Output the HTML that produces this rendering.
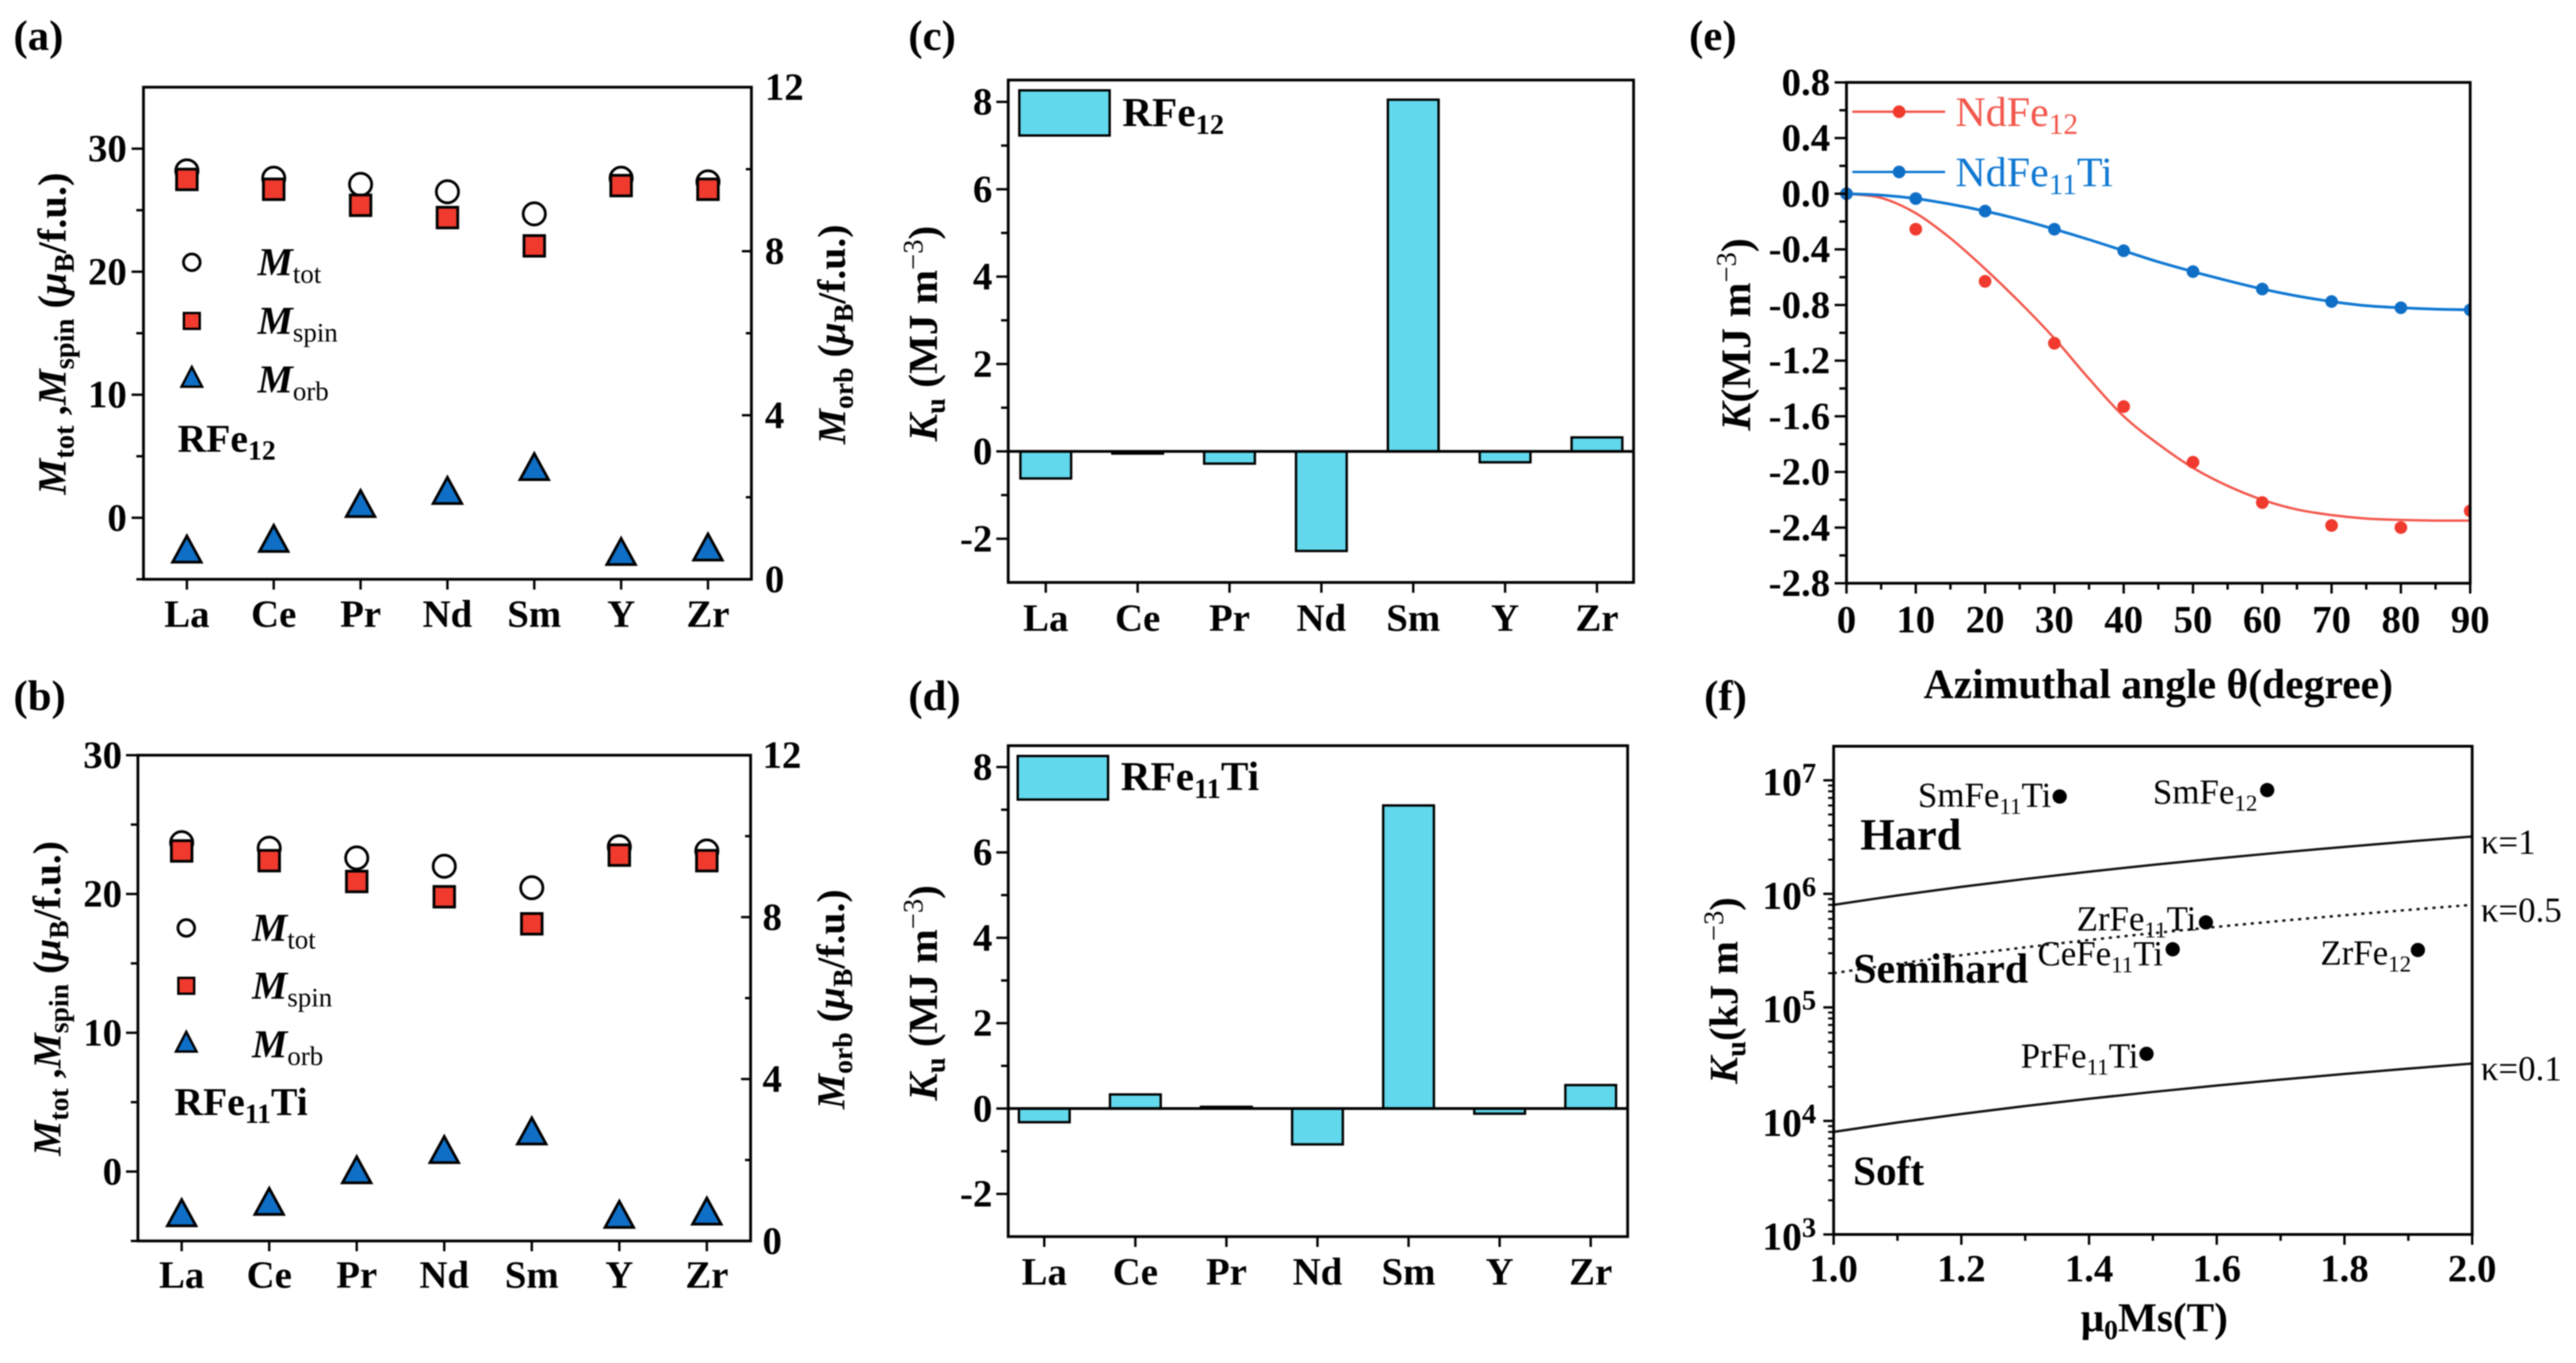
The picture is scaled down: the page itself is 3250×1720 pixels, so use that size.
<!DOCTYPE html>
<html lang="en">
<head>
<meta charset="utf-8">
<title>Magnetic properties of RFe12 and RFe11Ti</title>
<style>
html,body{margin:0;padding:0;background:#fff;width:3250px;height:1720px;overflow:hidden}
svg{display:block;filter:blur(0.7px)}
text{font-family:"Liberation Serif","DejaVu Serif",serif;fill:#000}
.b{font-weight:bold}
</style>
</head>
<body>
<svg id="figure" xmlns="http://www.w3.org/2000/svg" width="3250" height="1720" viewBox="0 0 3250 1720">
<defs><clipPath id="clip-e"><rect x="2300" y="100" width="817" height="640"/></clipPath></defs>
<rect x="0" y="0" width="3250" height="1720" fill="#fff"/>

<text class="b" x="17" y="63" font-size="54">(a)</text>
<text class="b" x="17" y="896" font-size="54">(b)</text>
<text class="b" x="1146" y="63" font-size="54">(c)</text>
<text class="b" x="1146" y="896" font-size="54">(d)</text>
<text class="b" x="2131" y="63" font-size="54">(e)</text>
<text class="b" x="2150" y="896" font-size="54">(f)</text>

<g id="panel-a"></g>
<g id="panel-b"></g>
<g id="panel-c"></g>
<g id="panel-d"></g>
<g id="panel-e"></g>
<g id="panel-f"></g>

<!-- panel a static -->
<text class="b" transform="translate(83,421) rotate(-90)" text-anchor="middle" font-size="51"><tspan font-style="italic">M</tspan><tspan dy="10" font-size="36">tot</tspan><tspan dy="-10"> ,</tspan><tspan font-style="italic">M</tspan><tspan dy="10" font-size="36">spin</tspan><tspan dy="-10"> (</tspan><tspan font-style="italic">μ</tspan><tspan dy="10" font-size="36">B</tspan><tspan dy="-10">/f.u.)</tspan></text>
<text class="b" transform="translate(1066,422) rotate(-90)" text-anchor="middle" font-size="50"><tspan font-style="italic">M</tspan><tspan dy="10" font-size="35">orb</tspan><tspan dy="-10"> (</tspan><tspan font-style="italic">μ</tspan><tspan dy="10" font-size="35">B</tspan><tspan dy="-10">/f.u.)</tspan></text>
<circle cx="242" cy="331" r="10.5" fill="#fff" stroke="#000" stroke-width="3.5"/>
<rect x="232" y="395" width="20" height="20" fill="#f03a2e" stroke="#000" stroke-width="3"/>
<polygon points="242,463 255,488 229,488" fill="#0f6fc6" stroke="#000" stroke-width="3"/>
<text x="325" y="347" font-size="50" class="b"><tspan font-style="italic">M</tspan><tspan dy="10" font-size="34" font-weight="normal">tot</tspan></text>
<text x="325" y="421" font-size="50" class="b"><tspan font-style="italic">M</tspan><tspan dy="10" font-size="34" font-weight="normal">spin</tspan></text>
<text x="325" y="495" font-size="50" class="b"><tspan font-style="italic">M</tspan><tspan dy="10" font-size="34" font-weight="normal">orb</tspan></text>
<text class="b" x="224" y="570" font-size="50">RFe<tspan dy="10" font-size="35">12</tspan></text>

<!-- panel b static -->
<text class="b" transform="translate(76,1260) rotate(-90)" text-anchor="middle" font-size="50"><tspan font-style="italic">M</tspan><tspan dy="10" font-size="35">tot</tspan><tspan dy="-10"> ,</tspan><tspan font-style="italic">M</tspan><tspan dy="10" font-size="35">spin</tspan><tspan dy="-10"> (</tspan><tspan font-style="italic">μ</tspan><tspan dy="10" font-size="35">B</tspan><tspan dy="-10">/f.u.)</tspan></text>
<text class="b" transform="translate(1065,1261) rotate(-90)" text-anchor="middle" font-size="50"><tspan font-style="italic">M</tspan><tspan dy="10" font-size="35">orb</tspan><tspan dy="-10"> (</tspan><tspan font-style="italic">μ</tspan><tspan dy="10" font-size="35">B</tspan><tspan dy="-10">/f.u.)</tspan></text>
<circle cx="235" cy="1171" r="10.5" fill="#fff" stroke="#000" stroke-width="3.5"/>
<rect x="225" y="1234" width="20" height="20" fill="#f03a2e" stroke="#000" stroke-width="3"/>
<polygon points="235,1302 248,1327 222,1327" fill="#0f6fc6" stroke="#000" stroke-width="3"/>
<text x="318" y="1187" font-size="50" class="b"><tspan font-style="italic">M</tspan><tspan dy="10" font-size="34" font-weight="normal">tot</tspan></text>
<text x="318" y="1260" font-size="50" class="b"><tspan font-style="italic">M</tspan><tspan dy="10" font-size="34" font-weight="normal">spin</tspan></text>
<text x="318" y="1334" font-size="50" class="b"><tspan font-style="italic">M</tspan><tspan dy="10" font-size="34" font-weight="normal">orb</tspan></text>
<text class="b" x="220" y="1407" font-size="50">RFe<tspan dy="10" font-size="35">11</tspan><tspan dy="-10">Ti</tspan></text>

<!-- panel c static -->
<text class="b" transform="translate(1182,421) rotate(-90)" text-anchor="middle" font-size="52"><tspan font-style="italic">K</tspan><tspan dy="10" font-size="36">u</tspan><tspan dy="-10"> (MJ m</tspan><tspan dy="-18" font-size="36" font-weight="normal">−3</tspan><tspan dy="18">)</tspan></text>
<rect x="1286" y="114" width="114" height="57" fill="#62d8ec" stroke="#000" stroke-width="3"/>
<text class="b" x="1416" y="159" font-size="52">RFe<tspan dy="10" font-size="36">12</tspan></text>

<!-- panel d static -->
<text class="b" transform="translate(1182,1253) rotate(-90)" text-anchor="middle" font-size="52"><tspan font-style="italic">K</tspan><tspan dy="10" font-size="36">u</tspan><tspan dy="-10"> (MJ m</tspan><tspan dy="-18" font-size="36" font-weight="normal">−3</tspan><tspan dy="18">)</tspan></text>
<rect x="1284" y="954" width="114" height="55" fill="#62d8ec" stroke="#000" stroke-width="3"/>
<text class="b" x="1414" y="997" font-size="52">RFe<tspan dy="10" font-size="36">11</tspan><tspan dy="-10">Ti</tspan></text>

<!-- panel e static -->
<text class="b" transform="translate(2208,422) rotate(-90)" text-anchor="middle" font-size="53"><tspan font-style="italic">K</tspan>(MJ m<tspan dy="-18" font-size="36" font-weight="normal">−3</tspan><tspan dy="18">)</tspan></text>
<text class="b" x="2723" y="881" text-anchor="middle" font-size="52.5">Azimuthal angle θ(degree)</text>
<line x1="2337" y1="141" x2="2454" y2="141" stroke="#f2574c" stroke-width="3"/>
<circle cx="2396" cy="141" r="8" fill="#f03a2e"/>
<text x="2467" y="159" font-size="53" style="fill:#f2574c">NdFe<tspan dy="10" font-size="37" style="fill:#f2574c">12</tspan></text>
<line x1="2337" y1="217" x2="2454" y2="217" stroke="#0f78d2" stroke-width="3"/>
<circle cx="2396" cy="217" r="8" fill="#0f6fc6"/>
<text x="2467" y="235" font-size="53" style="fill:#0f78d2">NdFe<tspan dy="10" font-size="37" style="fill:#0f78d2">11</tspan><tspan dy="-10" style="fill:#0f78d2">Ti</tspan></text>

<!-- panel f static -->
<text class="b" transform="translate(2192,1250) rotate(-90)" text-anchor="middle" font-size="51"><tspan font-style="italic">K</tspan><tspan dy="10" font-size="36">u</tspan><tspan dy="-10">(kJ m</tspan><tspan dy="-18" font-size="36" font-weight="normal">−3</tspan><tspan dy="18">)</tspan></text>
<text class="b" x="2718" y="1680" text-anchor="middle" font-size="52">μ<tspan dy="10" font-size="35">0</tspan><tspan dy="-10">Ms(T)</tspan></text>
<text class="b" x="2347" y="1072" font-size="56">Hard</text>
<text class="b" x="2338" y="1240" font-size="53">Semihard</text>
<text class="b" x="2338" y="1495" font-size="52">Soft</text>
<text x="3130" y="1077" font-size="44">κ=1</text>
<text x="3130" y="1163" font-size="44">κ=0.5</text>
<text x="3130" y="1363" font-size="44">κ=0.1</text>
<text x="2588" y="1018" text-anchor="end" font-size="44">SmFe<tspan dy="9" font-size="29">11</tspan><tspan dy="-9">Ti</tspan></text>
<text x="2848" y="1014" text-anchor="end" font-size="44">SmFe<tspan dy="9" font-size="29">12</tspan></text>
<text x="2771" y="1174" text-anchor="end" font-size="44">ZrFe<tspan dy="9" font-size="29">11</tspan><tspan dy="-9">Ti</tspan></text>
<text x="2729" y="1218" text-anchor="end" font-size="44">CeFe<tspan dy="9" font-size="29">11</tspan><tspan dy="-9">Ti</tspan></text>
<text x="3042" y="1217" text-anchor="end" font-size="44">ZrFe<tspan dy="9" font-size="29">12</tspan></text>
<text x="2698" y="1347" text-anchor="end" font-size="44">PrFe<tspan dy="9" font-size="29">11</tspan><tspan dy="-9">Ti</tspan></text>
</svg>

<script>
// ---- chart data ----
const categories = ['La', 'Ce', 'Pr', 'Nd', 'Sm', 'Y', 'Zr'];

const aTotal = [28.2, 27.6, 27.1, 26.5, 24.7, 27.6, 27.3];
const aSpin = [27.5, 26.7, 25.4, 24.4, 22.1, 27.0, 26.7];
const aOrbital = [0.67, 0.93, 1.78, 2.10, 2.68, 0.61, 0.72];
const aLeftMajor = [0, 10, 20, 30];
const aLeftMinor = [-5, 5, 15, 25];

const bTotal = [23.7, 23.3, 22.6, 22.0, 20.45, 23.4, 23.1];
const bSpin = [23.1, 22.4, 20.9, 19.8, 17.85, 22.8, 22.4];
const bOrbital = [0.63, 0.91, 1.69, 2.19, 2.65, 0.59, 0.67];
const bLeftMajor = [0, 10, 20, 30];
const bLeftMinor = [-5, 5, 15, 25];

const rightMajor = [0, 4, 8, 12];
const rightMinor = [2, 6, 10];

const cKu = [-0.62, -0.05, -0.28, -2.28, 8.05, -0.25, 0.32];
const dKu = [-0.32, 0.33, 0.04, -0.84, 7.10, -0.12, 0.55];
const kuMajor = [-2, 0, 2, 4, 6, 8];
const kuMinor = [-1, 1, 3, 5, 7];

const eAngles = [0, 10, 20, 30, 40, 50, 60, 70, 80, 90];
const eAngleMinor = [5, 15, 25, 35, 45, 55, 65, 75, 85];
const eRedPoints = [0, -0.255, -0.63, -1.075, -1.53, -1.93, -2.22, -2.385, -2.40, -2.28];
const eBluePoints = [0, -0.035, -0.125, -0.255, -0.41, -0.56, -0.685, -0.775, -0.82, -0.835];
const eFitAngles = [0, 5, 10, 15, 20, 25, 30, 35, 40, 45, 50, 55, 60, 65, 70, 75, 80, 85, 90];
const eRedFit = [0, -0.03, -0.14, -0.32, -0.54, -0.78, -1.04, -1.33, -1.60, -1.80, -1.97, -2.10, -2.20, -2.27, -2.31, -2.335, -2.345, -2.35, -2.35];
const eBlueFit = [0, -0.01, -0.035, -0.075, -0.125, -0.185, -0.255, -0.33, -0.41, -0.49, -0.56, -0.625, -0.685, -0.735, -0.775, -0.805, -0.82, -0.83, -0.835];
const eYMajor = ['-2.8', '-2.4', '-2.0', '-1.6', '-1.2', '-0.8', '-0.4', '0.0', '0.4', '0.8'];
const eYMinor = [-2.6, -2.2, -1.8, -1.4, -1.0, -0.6, -0.2, 0.2, 0.6];

const fMs = [1.0, 1.1, 1.2, 1.3, 1.4, 1.5, 1.6, 1.7, 1.8, 1.9, 2.0];
const fKappa1 = [800000, 968000, 1152000, 1352000, 1568000, 1800000, 2048000, 2312000, 2592000, 2888000, 3200000];
const fKappa05 = [200000, 242000, 288000, 338000, 392000, 450000, 512000, 578000, 648000, 722000, 800000];
const fKappa01 = [8000, 9680, 11520, 13520, 15680, 18000, 20480, 23120, 25920, 28880, 32000];
const fPointNames = ['SmFe11Ti', 'SmFe12', 'ZrFe11Ti', 'CeFe11Ti', 'ZrFe12', 'PrFe11Ti'];
const fPointMs = [1.354, 1.679, 1.583, 1.531, 1.915, 1.49];
const fPointKu = [7200000, 8200000, 560000, 325000, 320000, 39000];
const fXMajor = ['1.0', '1.2', '1.4', '1.6', '1.8', '2.0'];
const fXMinor = [1.1, 1.3, 1.5, 1.7, 1.9];
const fExponents = [3, 4, 5, 6, 7];
const fMinorMultipliers = [2, 3, 4, 5, 6, 7, 8, 9];

// ---- helpers ----
const SVGNS = 'http://www.w3.org/2000/svg';
function linear(d0, d1, r0, r1) {
  return function (v) { return r0 + (v - d0) * (r1 - r0) / (d1 - d0); };
}
function shape(parent, tag, attrs) {
  const node = document.createElementNS(SVGNS, tag);
  Object.keys(attrs).forEach(function (k) { node.setAttribute(k, attrs[k]); });
  parent.appendChild(node);
  return node;
}
function tick(parent, x1, y1, x2, y2, w, name) {
  const t = shape(parent, 'line', { x1: x1, y1: y1, x2: x2, y2: y2, stroke: '#000', 'stroke-width': w });
  
  
}
function label(parent, x, y, str, anchor, size, name) {
  const t = shape(parent, 'text', { x: x, y: y, 'text-anchor': anchor, 'font-size': size, 'font-weight': 'bold' });
  t.textContent = str;
  
  
  return t;
}
function frame(parent, b) {
  const r = shape(parent, 'rect', { x: b.l, y: b.t, width: b.r - b.l, height: b.b - b.t, fill: 'none', stroke: '#000', 'stroke-width': 3.5 });
  
  
}
function categoryAxis(parent, b, xOf, baseline) {
  categories.forEach(function (c, i) {
    tick(parent, xOf(i), b.b, xOf(i), b.b + 13, 3, 'x-tick-' + c);
    label(parent, xOf(i), baseline, c, 'middle', 49, 'x-tick-label-' + c);
  });
}
function leftAxis(parent, b, yOf, major, minor, labelX) {
  major.forEach(function (v) {
    const num = Number(v);
    tick(parent, b.l - 15, yOf(num), b.l, yOf(num), 3, 'y-tick-' + v);
    label(parent, labelX, yOf(num) + 16, String(v), 'end', 49, 'y-tick-label-' + v);
  });
  minor.forEach(function (v) {
    tick(parent, b.l - 9, yOf(v), b.l, yOf(v), 3, 'y-minor-tick-' + v);
  });
}
function rightAxis(parent, b, yOf, labelX) {
  rightMajor.forEach(function (v) {
    tick(parent, b.r - 12, yOf(v), b.r, yOf(v), 3, 'right-tick-' + v);
    label(parent, labelX, yOf(v) + 16, String(v), 'start', 49, 'right-tick-label-' + v);
  });
  rightMinor.forEach(function (v) {
    tick(parent, b.r - 7, yOf(v), b.r, yOf(v), 3, 'right-minor-tick-' + v);
  });
}
function smoothPath(xs, ys) {
  let d = 'M' + xs[0] + ' ' + ys[0];
  for (let i = 0; i < xs.length - 1; i++) {
    const p0 = Math.max(i - 1, 0), p3 = Math.min(i + 2, xs.length - 1);
    const c1x = xs[i] + (xs[i + 1] - xs[p0]) / 6, c1y = ys[i] + (ys[i + 1] - ys[p0]) / 6;
    const c2x = xs[i + 1] - (xs[p3] - xs[i]) / 6, c2y = ys[i + 1] - (ys[p3] - ys[i]) / 6;
    d += 'C' + c1x + ' ' + c1y + ' ' + c2x + ' ' + c2y + ' ' + xs[i + 1] + ' ' + ys[i + 1];
  }
  return d;
}

// ---- panels a / b ----
function momentPanel(id, b, leftDomain, total, spin, orbital, leftMajor, leftMinor, leftLabelX, rightLabelX, xBaseline) {
  const g = document.getElementById(id);
  const step = (b.r - b.l) / 7;
  const xOf = function (i) { return b.l + (i + 0.5) * step; };
  const yLeft = linear(leftDomain[0], leftDomain[1], b.b, b.t);
  const yRight = linear(0, 12, b.b, b.t);
  total.forEach(function (v, i) {
    const m = shape(g, 'circle', { cx: xOf(i), cy: yLeft(v), r: 14, fill: '#fff', stroke: '#000', 'stroke-width': 3.5 });
    
    
  });
  spin.forEach(function (v, i) {
    const m = shape(g, 'rect', { x: xOf(i) - 13, y: yLeft(v) - 13, width: 26, height: 26, fill: '#f03a2e', stroke: '#000', 'stroke-width': 3.5 });
    
    
  });
  orbital.forEach(function (v, i) {
    const cx = xOf(i), cy = yRight(v);
    const pts = cx + ',' + (cy - 20) + ' ' + (cx + 18) + ',' + (cy + 13) + ' ' + (cx - 18) + ',' + (cy + 13);
    const m = shape(g, 'polygon', { points: pts, fill: '#0f6fc6', stroke: '#000', 'stroke-width': 3.5, 'stroke-linejoin': 'miter' });
    
    
  });
  frame(g, b);
  categoryAxis(g, b, xOf, xBaseline);
  leftAxis(g, b, yLeft, leftMajor, leftMinor, leftLabelX);
  rightAxis(g, b, yRight, rightLabelX);
}
momentPanel('panel-a', { l: 181, r: 948, t: 110, b: 731 }, [-5, 35], aTotal, aSpin, aOrbital, aLeftMajor, aLeftMinor, 160, 965, 791);
momentPanel('panel-b', { l: 174, r: 947, t: 953, b: 1566 }, [-5, 30], bTotal, bSpin, bOrbital, bLeftMajor, bLeftMinor, 154, 962, 1625);

// ---- panels c / d ----
function barPanel(id, b, values, firstX, step, barW, xBaseline) {
  const g = document.getElementById(id);
  const xOf = function (i) { return firstX + i * step; };
  const yOf = linear(-3, 8.5, b.b, b.t);
  values.forEach(function (v, i) {
    const top = Math.min(yOf(v), yOf(0)), h = Math.abs(yOf(v) - yOf(0));
    const r = shape(g, 'rect', { x: xOf(i) - barW / 2, y: top, width: barW, height: h, fill: '#62d8ec', stroke: '#000', 'stroke-width': 3 });
    
    
  });
  tick(g, b.l, yOf(0), b.r, yOf(0), 3.5, 'zero-line');
  frame(g, b);
  categoryAxis(g, b, xOf, xBaseline);
  leftAxis(g, b, yOf, kuMajor, kuMinor, 1252);
}
barPanel('panel-c', { l: 1272, r: 2061, t: 101, b: 735 }, cKu, 1319.4, 115.9, 64, 796);
barPanel('panel-d', { l: 1272, r: 2053.5, t: 941, b: 1560.5 }, dKu, 1317.5, 114.9, 64, 1621);

// ---- panel e ----
(function () {
  const g = document.getElementById('panel-e');
  const b = { l: 2329.6, r: 3116.5, t: 104, b: 736 };
  const xOf = linear(0, 90, b.l, b.r);
  const yOf = linear(-2.8, 0.8, b.b, b.t);
  const series = [
    { name: 'ndfe12', line: '#f2574c', dot: '#f03a2e', fit: eRedFit, pts: eRedPoints, w: 3 },
    { name: 'ndfe11ti', line: '#0f78d2', dot: '#0f6fc6', fit: eBlueFit, pts: eBluePoints, w: 3.5 }
  ];
  series.forEach(function (s) {
    const path = shape(g, 'path', { d: smoothPath(eFitAngles.map(xOf), s.fit.map(yOf)), fill: 'none', stroke: s.line, 'stroke-width': s.w, 'clip-path': 'url(#clip-e)' });
    
    
    s.pts.forEach(function (v, i) {
      const dot = shape(g, 'circle', { cx: xOf(eAngles[i]), cy: yOf(v), r: 8, fill: s.dot, 'clip-path': 'url(#clip-e)' });
      
      
    });
  });
  frame(g, b);
  eAngles.forEach(function (a) {
    tick(g, xOf(a), b.b, xOf(a), b.b + 13, 3, 'x-tick-' + a);
    label(g, xOf(a), 798, String(a), 'middle', 49, 'x-tick-label-' + a);
  });
  eAngleMinor.forEach(function (a) {
    tick(g, xOf(a), b.b, xOf(a), b.b + 8, 3, 'x-minor-tick-' + a);
  });
  leftAxis(g, b, yOf, eYMajor, eYMinor, 2309);
})();

// ---- panel f ----
(function () {
  const g = document.getElementById('panel-f');
  const b = { l: 2313.4, r: 3119, t: 941.7, b: 1557.8 };
  const xOf = linear(1, 2, b.l, b.r);
  const yLog = linear(3, 7.3, b.b, b.t);
  const yOf = function (v) { return yLog(Math.log10(v)); };
  const curves = [
    { name: 'kappa-1', vals: fKappa1, dash: 'none' },
    { name: 'kappa-0-5', vals: fKappa05, dash: '4 6' },
    { name: 'kappa-0-1', vals: fKappa01, dash: 'none' }
  ];
  curves.forEach(function (c) {
    const path = shape(g, 'path', { d: smoothPath(fMs.map(xOf), c.vals.map(yOf)), fill: 'none', stroke: '#111', 'stroke-width': 3, 'stroke-dasharray': c.dash });
    
    
  });
  fPointNames.forEach(function (n, i) {
    const dot = shape(g, 'circle', { cx: xOf(fPointMs[i]), cy: yOf(fPointKu[i]), r: 9, fill: '#000' });
    
    
  });
  frame(g, b);
  fXMajor.forEach(function (v) {
    tick(g, xOf(Number(v)), b.b, xOf(Number(v)), b.b + 13, 3, 'x-tick-' + v);
    label(g, xOf(Number(v)), 1617, v, 'middle', 49, 'x-tick-label-' + v);
  });
  fXMinor.forEach(function (v) {
    tick(g, xOf(v), b.b, xOf(v), b.b + 8, 3, 'x-minor-tick-' + v);
  });
  fExponents.forEach(function (e) {
    const y = yLog(e);
    tick(g, b.l - 13, y, b.l, y, 3, 'y-tick-1e' + e);
    const t = label(g, b.l - 90, y + 19, '10', 'start', 50, 'y-tick-label-1e' + e);
    const sup = shape(t, 'tspan', { dy: -16, 'font-size': 36 });
    sup.textContent = String(e);
    fMinorMultipliers.forEach(function (m) {
      const v = m * Math.pow(10, e);
      if (Math.log10(v) <= 7.3) {
        tick(g, b.l - 7, yOf(v), b.l, yOf(v), 2.5, 'y-minor-tick-' + m + 'e' + e);
      }
    });
  });
})();
</script>
</body>
</html>
